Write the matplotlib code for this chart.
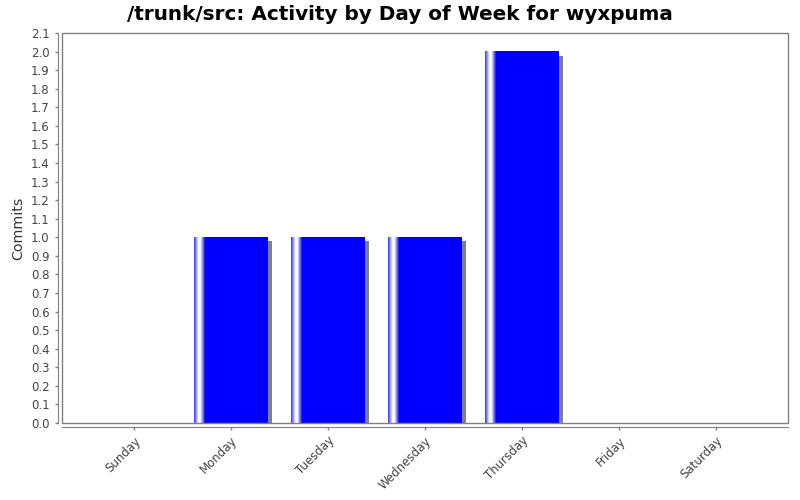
import numpy as np
import matplotlib
matplotlib.use('Agg')
import matplotlib.pyplot as plt
import matplotlib.patheffects as pe
from matplotlib.patches import Rectangle

days = ['Sunday', 'Monday', 'Tuesday', 'Wednesday', 'Thursday', 'Friday', 'Saturday']
commits = [0, 1, 1, 1, 2, 0, 0]
y_ticks = [round(0.1 * i, 1) for i in range(22)]

fig = plt.figure(figsize=(8, 5), dpi=100)
ax = fig.add_axes([62 / 800, 77 / 500, 726 / 800, 390 / 500])

x = np.arange(len(days))
width = 0.753

# bars with a drop shadow
bars = ax.bar(x, commits, width=width, color='#0000ff', linewidth=0,
              path_effects=[pe.SimplePatchShadow(offset=(2.9, -2.9),
                                                 shadow_rgbFace=(0.5, 0.5, 0.5),
                                                 alpha=1.0),
                            pe.Normal()])

# gradient highlight on the left of each bar
t = np.linspace(0, 1, 300)
blue = np.array([0.0, 0.0, 1.0])
white = np.array([1.0, 1.0, 1.0])
grad = np.zeros((1, len(t), 3))
for i, v in enumerate(t):
    if v < 0.06:
        f = 0.2 + 0.8 * v / 0.06
    elif v < 0.085:
        f = 1.0
    elif v < 0.15:
        f = 1 - (v - 0.085) / 0.065
    else:
        f = 0.0
    grad[0, i] = blue * (1 - f) + white * f
for xi, val in zip(x, commits):
    if val > 0:
        ax.imshow(grad, extent=(xi - width / 2, xi + width / 2, 0, val),
                  aspect='auto', interpolation='bilinear', zorder=3)

ax.set_xlim(-0.742, 6.742)
ax.set_ylim(0, 2.1)
ax.set_yticks(y_ticks)
ax.set_yticklabels([f'{v:.1f}' for v in y_ticks])
ax.set_xticks(x)
ax.set_xticklabels(days)

for s in ['top', 'right']:
    ax.spines[s].set_visible(False)
for s in ['left', 'bottom']:
    ax.spines[s].set_position(('outward', 3))
    ax.spines[s].set_color('#808080')
ax.add_patch(Rectangle((0, 0), 1, 1, transform=ax.transAxes, fill=False,
                       edgecolor='#808080', linewidth=1, clip_on=False, zorder=5))

ax.tick_params(axis='both', colors='#808080', labelcolor='#444444',
               labelsize=8.5, length=2.5, width=1)
ax.tick_params(axis='x', pad=2.5)
for lbl in ax.get_xticklabels():
    lbl.set_rotation(45)
    lbl.set_ha('right')
    lbl.set_rotation_mode('anchor')
ax.set_ylabel('Commits', fontsize=10.3, color='#333333', labelpad=4)

fig.text(0.5, 1 - 14 / 500, '/trunk/src: Activity by Day of Week for wyxpuma',
         ha='center', va='center', fontsize=14.4, fontweight='bold')

fig.savefig('out.png', dpi=100, facecolor='white')
